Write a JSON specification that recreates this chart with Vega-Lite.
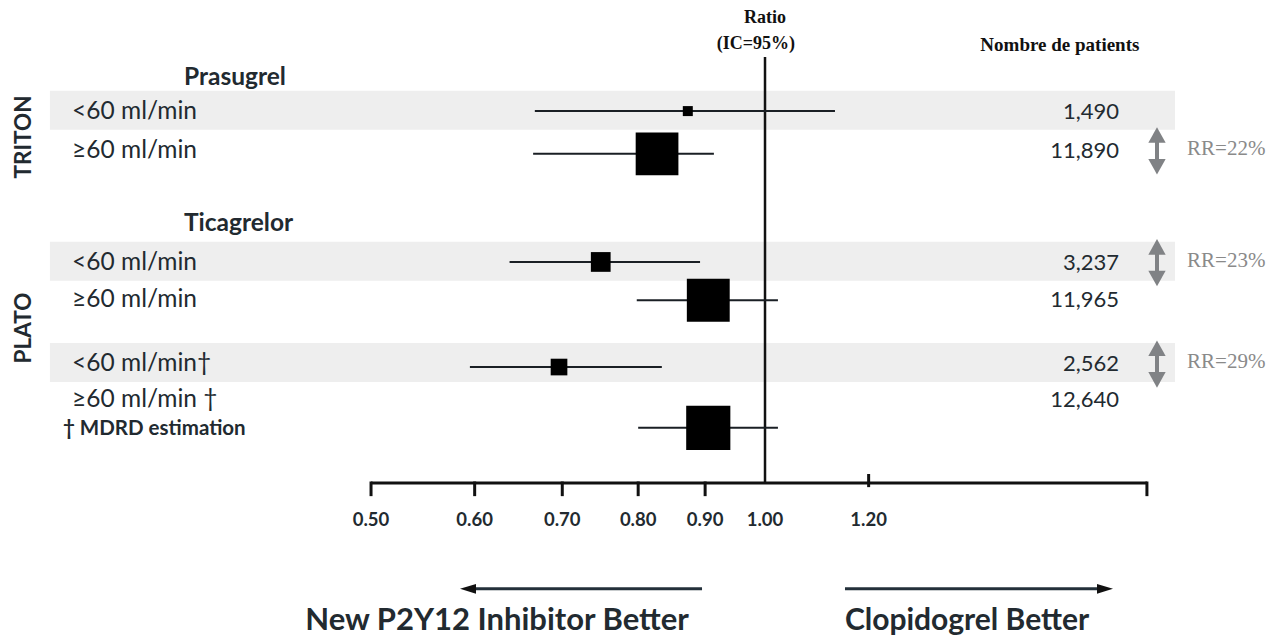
{
  "$schema": "https://vega.github.io/schema/vega-lite/v6.json",
  "width": 1288,
  "height": 638,
  "autosize": {"type": "none"},
  "padding": 0,
  "background": "white",
  "config": {"view": {"stroke": null}},
  "datasets": {
    "rows": [
      {"trial": "TRITON", "drug": "Prasugrel", "group": "<60 ml/min", "row": 2.98, "markRow": 2.96, "ratio": 0.873, "lo": 0.667, "hi": 1.131, "patients": 1490, "rr": null},
      {"trial": "TRITON", "drug": "Prasugrel", "group": "≥60 ml/min", "row": 4.02, "markRow": 4.1, "ratio": 0.827, "lo": 0.665, "hi": 0.914, "patients": 11890, "rr": "RR=22%"},
      {"trial": "PLATO", "drug": "Ticagrelor", "group": "<60 ml/min", "row": 7.0, "markRow": 6.98, "ratio": 0.749, "lo": 0.638, "hi": 0.892, "patients": 3237, "rr": "RR=23%"},
      {"trial": "PLATO", "drug": "Ticagrelor", "group": "≥60 ml/min", "row": 8.0, "markRow": 8.0, "ratio": 0.905, "lo": 0.798, "hi": 1.023, "patients": 11965, "rr": null},
      {"trial": "PLATO", "drug": "Ticagrelor", "group": "<60 ml/min†", "row": 9.7, "markRow": 9.78, "ratio": 0.696, "lo": 0.595, "hi": 0.834, "patients": 2562, "rr": "RR=29%"},
      {"trial": "PLATO", "drug": "Ticagrelor", "group": "≥60 ml/min †", "row": 10.66, "markRow": 11.4, "ratio": 0.905, "lo": 0.8, "hi": 1.023, "patients": 12640, "rr": null}
    ],
    "ticks": [{"v": 0.5}, {"v": 0.6}, {"v": 0.7}, {"v": 0.8}, {"v": 0.9}, {"v": 1.0}, {"v": 1.2}]
  },
  "data": {"name": "rows"},
  "layer": [
    {
      "transform": [{"filter": "indexof(datum.group, '<') === 0"}],
      "mark": {"type": "rect", "color": "#eeeeee", "yOffset": -21, "y2Offset": 18},
      "encoding": {
        "x": {"datum": 0.2842, "type": "quantitative", "scale": {"type": "log", "domain": [0.2603, 2.5096], "nice": false}, "axis": null},
        "x2": {"datum": 2.057},
        "y": {"field": "row", "type": "quantitative", "scale": {"domain": [0, 17], "reverse": true, "nice": false, "zero": false}, "axis": null},
        "y2": {"field": "row"}
      }
    },
    {
      "data": {"values": [{}]},
      "mark": {"type": "rule", "color": "#111111", "strokeWidth": 2.5},
      "encoding": {
        "x": {"datum": 1.0, "type": "quantitative"},
        "y": {"datum": 1.52, "type": "quantitative"},
        "y2": {"datum": 12.87}
      }
    },
    {
      "mark": {"type": "rule", "color": "#1a1f24", "strokeWidth": 2},
      "encoding": {
        "x": {"field": "lo", "type": "quantitative"},
        "x2": {"field": "hi"},
        "y": {"field": "markRow", "type": "quantitative"}
      }
    },
    {
      "mark": {"type": "point", "shape": "square", "filled": true, "color": "#000000", "opacity": 1},
      "encoding": {
        "x": {"field": "ratio", "type": "quantitative"},
        "y": {"field": "markRow", "type": "quantitative"},
        "size": {"field": "patients", "type": "quantitative", "scale": {"domain": [1490, 12640], "range": [100, 1950], "zero": false}, "legend": null}
      }
    },
    {
      "mark": {"type": "text", "align": "left", "baseline": "middle", "font": "Lato", "fontSize": 24.5, "color": "#222a30"},
      "encoding": {
        "x": {"datum": 0.2955, "type": "quantitative"},
        "y": {"field": "row", "type": "quantitative"},
        "text": {"field": "group"}
      }
    },
    {
      "mark": {"type": "text", "align": "right", "baseline": "middle", "font": "Lato", "fontSize": 22, "color": "#222a30"},
      "encoding": {
        "x": {"datum": 1.8642, "type": "quantitative"},
        "y": {"field": "row", "type": "quantitative"},
        "text": {"field": "patients", "type": "quantitative", "format": ","}
      }
    },
    {
      "transform": [{"filter": "isValid(datum.rr)"}],
      "mark": {"type": "rule", "color": "#808285", "strokeWidth": 4, "yOffset": -14, "y2Offset": 14},
      "encoding": {
        "x": {"datum": 1.993, "type": "quantitative"},
        "y": {"field": "row", "type": "quantitative"},
        "y2": {"field": "row"}
      }
    },
    {
      "transform": [{"filter": "isValid(datum.rr)"}],
      "mark": {"type": "point", "shape": "M0,-1L1,0.8L-1,0.8Z", "filled": true, "color": "#808285", "opacity": 1, "size": 300, "yOffset": -15},
      "encoding": {
        "x": {"datum": 1.993, "type": "quantitative"},
        "y": {"field": "row", "type": "quantitative"}
      }
    },
    {
      "transform": [{"filter": "isValid(datum.rr)"}],
      "mark": {"type": "point", "shape": "M0,1L1,-0.8L-1,-0.8Z", "filled": true, "color": "#808285", "opacity": 1, "size": 300, "yOffset": 15},
      "encoding": {
        "x": {"datum": 1.993, "type": "quantitative"},
        "y": {"field": "row", "type": "quantitative"}
      }
    },
    {
      "transform": [{"filter": "isValid(datum.rr)"}],
      "mark": {"type": "text", "align": "left", "baseline": "middle", "font": "Liberation Serif", "fontSize": 21, "color": "#8a8a8a", "dy": -2},
      "encoding": {
        "x": {"datum": 2.1011, "type": "quantitative"},
        "y": {"field": "row", "type": "quantitative"},
        "text": {"field": "rr"}
      }
    },
    {
      "data": {"values": [{}]},
      "mark": {"type": "text", "align": "center", "baseline": "middle", "font": "Liberation Serif", "fontSize": 18, "fontWeight": "bold", "color": "#111111", "text": "Ratio"},
      "encoding": {"x": {"datum": 1.0, "type": "quantitative"}, "y": {"datum": 0.47, "type": "quantitative"}}
    },
    {
      "data": {"values": [{}]},
      "mark": {"type": "text", "align": "center", "baseline": "middle", "font": "Liberation Serif", "fontSize": 18, "fontWeight": "bold", "color": "#111111", "text": "(IC=95%)"},
      "encoding": {"x": {"datum": 0.984, "type": "quantitative"}, "y": {"datum": 1.17, "type": "quantitative"}}
    },
    {
      "data": {"values": [{}]},
      "mark": {"type": "text", "align": "center", "baseline": "middle", "font": "Liberation Serif", "fontSize": 19, "fontWeight": "bold", "color": "#111111", "text": "Nombre de patients"},
      "encoding": {"x": {"datum": 1.68, "type": "quantitative"}, "y": {"datum": 1.2, "type": "quantitative"}}
    },
    {
      "data": {"values": [{}]},
      "mark": {"type": "text", "align": "left", "baseline": "middle", "font": "Lato", "fontSize": 24.5, "fontWeight": "bold", "color": "#222a30", "text": "Prasugrel"},
      "encoding": {"x": {"datum": 0.3598, "type": "quantitative"}, "y": {"datum": 2.08, "type": "quantitative"}}
    },
    {
      "data": {"values": [{}]},
      "mark": {"type": "text", "align": "left", "baseline": "middle", "font": "Lato", "fontSize": 24.5, "fontWeight": "bold", "color": "#222a30", "text": "Ticagrelor"},
      "encoding": {"x": {"datum": 0.3598, "type": "quantitative"}, "y": {"datum": 5.97, "type": "quantitative"}}
    },
    {
      "data": {"values": [{}]},
      "mark": {"type": "text", "align": "center", "baseline": "middle", "font": "Lato", "fontSize": 22.5, "fontWeight": "bold", "color": "#222a30", "angle": 270, "text": "TRITON"},
      "encoding": {"x": {"datum": 0.2716, "type": "quantitative"}, "y": {"datum": 3.65, "type": "quantitative"}}
    },
    {
      "data": {"values": [{}]},
      "mark": {"type": "text", "align": "center", "baseline": "middle", "font": "Lato", "fontSize": 22.5, "fontWeight": "bold", "color": "#222a30", "angle": 270, "text": "PLATO"},
      "encoding": {"x": {"datum": 0.2716, "type": "quantitative"}, "y": {"datum": 8.74, "type": "quantitative"}}
    },
    {
      "data": {"values": [{}]},
      "mark": {"type": "text", "align": "left", "baseline": "middle", "font": "Lato", "fontSize": 20.5, "fontWeight": "bold", "color": "#222a30", "text": "† MDRD estimation"},
      "encoding": {"x": {"datum": 0.2908, "type": "quantitative"}, "y": {"datum": 11.42, "type": "quantitative"}}
    },
    {
      "data": {"values": [{}]},
      "mark": {"type": "rule", "color": "#111111", "strokeWidth": 3},
      "encoding": {
        "x": {"datum": 0.5, "type": "quantitative"},
        "x2": {"datum": 1.958},
        "y": {"datum": 12.87, "type": "quantitative"}
      }
    },
    {
      "data": {"name": "ticks"},
      "transform": [{"filter": "datum.v < 1"}],
      "mark": {"type": "rule", "color": "#111111", "strokeWidth": 3},
      "encoding": {
        "x": {"field": "v", "type": "quantitative"},
        "y": {"datum": 12.83, "type": "quantitative"},
        "y2": {"datum": 13.22}
      }
    },
    {
      "data": {"name": "ticks"},
      "transform": [{"filter": "datum.v > 1"}],
      "mark": {"type": "rule", "color": "#111111", "strokeWidth": 3},
      "encoding": {
        "x": {"field": "v", "type": "quantitative"},
        "y": {"datum": 12.63, "type": "quantitative"},
        "y2": {"datum": 12.98}
      }
    },
    {
      "data": {"values": [{}]},
      "mark": {"type": "rule", "color": "#111111", "strokeWidth": 3},
      "encoding": {
        "x": {"datum": 1.958, "type": "quantitative"},
        "y": {"datum": 12.83, "type": "quantitative"},
        "y2": {"datum": 13.22}
      }
    },
    {
      "data": {"name": "ticks"},
      "mark": {"type": "text", "align": "center", "baseline": "middle", "font": "Lato", "fontSize": 18.5, "fontWeight": "bold", "color": "#222a30"},
      "encoding": {
        "x": {"field": "v", "type": "quantitative"},
        "y": {"datum": 13.86, "type": "quantitative"},
        "text": {"field": "v", "type": "quantitative", "format": ".2f"}
      }
    },
    {
      "data": {"values": [{}]},
      "mark": {"type": "rule", "color": "#23303a", "strokeWidth": 3},
      "encoding": {
        "x": {"datum": 0.6, "type": "quantitative"},
        "x2": {"datum": 0.8951},
        "y": {"datum": 15.69, "type": "quantitative"}
      }
    },
    {
      "data": {"values": [{}]},
      "mark": {"type": "point", "shape": "M-1,0L1,-0.6L1,0.6Z", "filled": true, "color": "#111111", "opacity": 1, "size": 256, "xOffset": 8},
      "encoding": {
        "x": {"datum": 0.5847, "type": "quantitative"},
        "y": {"datum": 15.69, "type": "quantitative"}
      }
    },
    {
      "data": {"values": [{}]},
      "mark": {"type": "rule", "color": "#23303a", "strokeWidth": 3},
      "encoding": {
        "x": {"datum": 1.1511, "type": "quantitative"},
        "x2": {"datum": 1.82},
        "y": {"datum": 15.69, "type": "quantitative"}
      }
    },
    {
      "data": {"values": [{}]},
      "mark": {"type": "point", "shape": "M1,0L-1,-0.6L-1,0.6Z", "filled": true, "color": "#111111", "opacity": 1, "size": 256, "xOffset": -8},
      "encoding": {
        "x": {"datum": 1.8445, "type": "quantitative"},
        "y": {"datum": 15.69, "type": "quantitative"}
      }
    },
    {
      "data": {"values": [{}]},
      "mark": {"type": "text", "align": "center", "baseline": "middle", "font": "Lato", "fontSize": 31, "fontWeight": "bold", "color": "#222a30", "text": "New P2Y12 Inhibitor Better"},
      "encoding": {"x": {"datum": 0.6241, "type": "quantitative"}, "y": {"datum": 16.55, "type": "quantitative"}}
    },
    {
      "data": {"values": [{}]},
      "mark": {"type": "text", "align": "center", "baseline": "middle", "font": "Lato", "fontSize": 30, "fontWeight": "bold", "color": "#222a30", "text": "Clopidogrel Better"},
      "encoding": {"x": {"datum": 1.4268, "type": "quantitative"}, "y": {"datum": 16.55, "type": "quantitative"}}
    }
  ]
}
